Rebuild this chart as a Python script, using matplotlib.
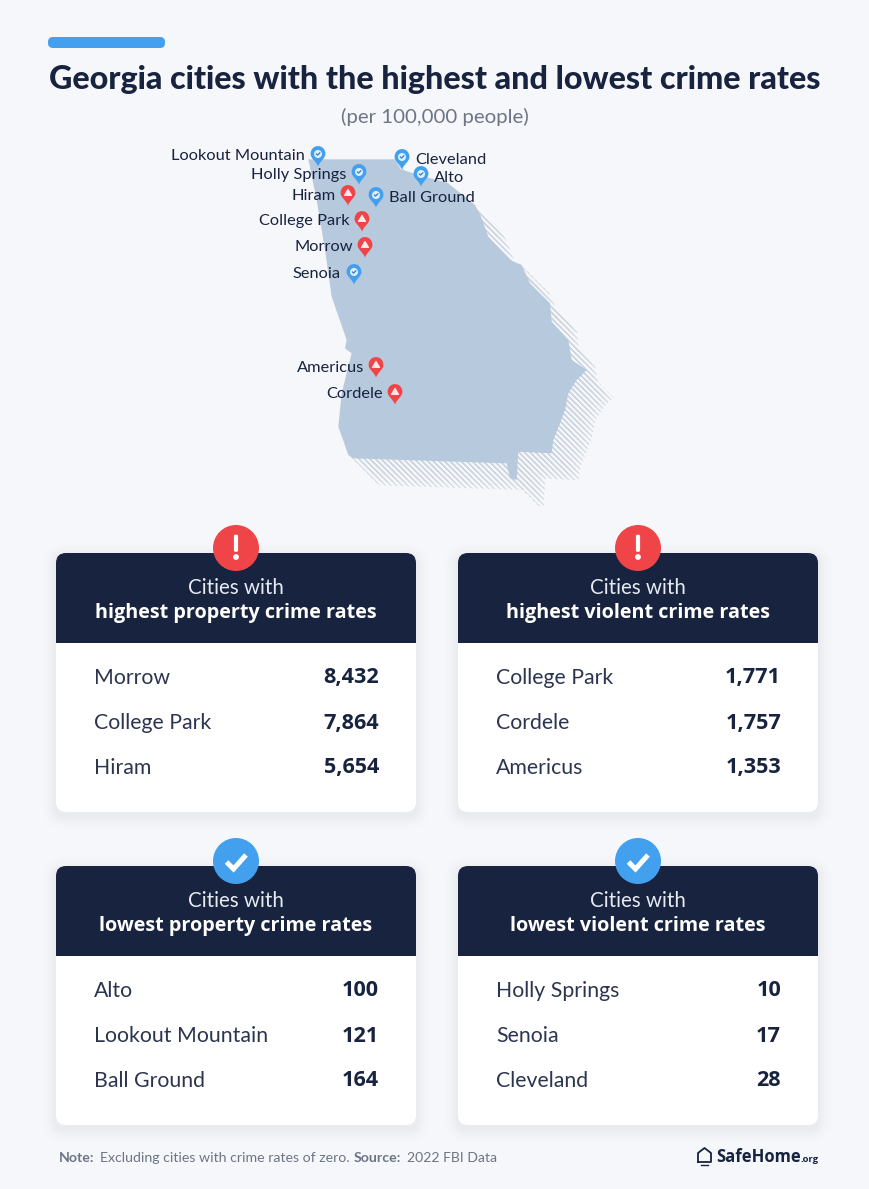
import matplotlib
matplotlib.use("Agg")
import matplotlib.pyplot as plt
from matplotlib.patches import FancyBboxPatch, Circle, Polygon, PathPatch
from matplotlib.path import Path

# ---------- data ----------
title = "Georgia cities with the highest and lowest crime rates"
subtitle = "(per 100,000 people)"
panel_titles = ["highest property crime rates", "highest violent crime rates",
                "lowest property crime rates", "lowest violent crime rates"]
panel_kinds = ["high", "high", "low", "low"]
panel_cities = [["Morrow", "College Park", "Hiram"],
                ["College Park", "Cordele", "Americus"],
                ["Alto", "Lookout Mountain", "Ball Ground"],
                ["Holly Springs", "Senoia", "Cleveland"]]
panel_values = [["8,432", "7,864", "5,654"],
                ["1,771", "1,757", "1,353"],
                ["100", "121", "164"],
                ["10", "17", "28"]]
pin_names = ["Lookout Mountain", "Holly Springs", "Hiram", "College Park", "Morrow", "Senoia",
             "Americus", "Cordele", "Cleveland", "Alto", "Ball Ground"]
pin_kinds = ["low", "low", "high", "high", "high", "low", "high", "high", "low", "low", "low"]

# ---------- style / layout ----------
BG = "#f6f7fa"; NAVY = "#17233f"; BLUE = "#42a0ee"; RED = "#f04548"
MAP = "#b7c9dd"; HATCH = "#ccd4dd"; GREY = "#6c7486"
FONT = "Lato"
plt.rcParams["font.family"] = [FONT, "DejaVu Sans"]
plt.rcParams["hatch.linewidth"] = 0.7

fig = plt.figure(figsize=(8.70, 11.89), dpi=100, facecolor=BG)
ax = fig.add_axes([0, 0, 1, 1])
ax.set_xlim(0, 870); ax.set_ylim(1189, 0); ax.axis("off")

# header
ax.add_patch(FancyBboxPatch((48, 37), 117, 11, boxstyle="round,pad=0,rounding_size=5", fc=BLUE, ec="none"))
ax.text(435, 80, title, ha="center", va="center", fontsize=23.2, fontweight="black", color=NAVY)
ax.text(435, 117, subtitle, ha="center", va="center", fontsize=14.7, color=GREY)

# map outline (zoom coordinates -> pixels)
zoom_outline = [(445,58),(705,58),(722,88),(800,112),(862,128),(945,195),(962,228),(985,290),
                (1050,360),(1085,375),(1110,430),(1170,490),(1175,545),(1225,600),(1235,660),
                (1280,690),(1250,720),(1225,760),(1215,810),(1200,850),(1180,900),(1175,940),
                (1075,935),(1070,1020),(1050,1015),(1040,970),(580,955),(565,945),(535,860),
                (545,760),(575,640),(555,625),(560,600),(515,470),(495,330),(470,180)]
outline = [(160 + x / 3, 140 + y / 3) for x, y in zoom_outline]
for off in (27, 23, 19, 15, 11, 7, 3):
    ax.add_patch(Polygon([(x + off, y + off) for x, y in outline], closed=True, fc="none",
                         ec=HATCH, hatch="\\\\\\\\\\\\", lw=0, zorder=1))
ax.add_patch(Polygon(outline, closed=True, fc=MAP, ec="none", zorder=2))

# pins
pin_xy = [(318,154),(359,172),(348,193),(362,219),(365,245),(354,272),(376,365),(395,392),
          (402,157),(421,174),(376,195)]
label_anchor = [(305,156,"right"),(346,175,"right"),(336,195.5,"right"),(350,221,"right"),
                (353,247,"right"),(341,274,"right"),(364,368,"right"),(383,394,"right"),
                (415,160,"left"),(434,178,"left"),(389,198,"left")]

def pin(x, y, kind):
    col = BLUE if kind == "low" else RED
    r = 7.4
    verts = [(x - r, y), (x - r, y - 10.6), (x + r, y - 10.6), (x + r, y),
             (x + r, y + 4.5), (x + 2, y + 7), (x, y + 12.5),
             (x - 2, y + 7), (x - r, y + 4.5), (x - r, y), (x - r, y)]
    codes = [Path.MOVETO, Path.CURVE4, Path.CURVE4, Path.CURVE4,
             Path.CURVE4, Path.CURVE4, Path.CURVE4,
             Path.CURVE4, Path.CURVE4, Path.CURVE4, Path.CLOSEPOLY]
    ax.add_patch(PathPatch(Path(verts, codes), fc=col, ec="none", zorder=5))
    if kind == "low":
        ax.add_patch(Circle((x, y), 4.0, fc="#dff0fd", ec="none", zorder=6))
        ax.plot([x - 1.6, x - 0.4, x + 1.8], [y, y + 1.1, y - 1.2], color="#2f80c8", lw=0.9, zorder=7)
    else:
        ax.add_patch(Polygon([(x, y - 3.6), (x + 3.6, y + 2.4), (x - 3.6, y + 2.4)], closed=True,
                             fc="#fde9e9", ec="#fde9e9", lw=0.8, joinstyle="round", zorder=6))

for name, kind, (x, y), (lx, ly, ha) in zip(pin_names, pin_kinds, pin_xy, label_anchor):
    pin(x, y, kind)
    ax.text(lx, ly, name, ha=ha, va="center", fontsize=11.75, color=NAVY, zorder=8)

# cards
CARD_W, CARD_H, HEAD_H = 360, 259, 90
card_origin = [(56, 553), (458, 553), (56, 866), (458, 866)]

def head_path(x, y, w, h, r=10):
    verts = [(x, y + h), (x, y + r), (x, y), (x + r, y), (x + w - r, y), (x + w, y), (x + w, y + r),
             (x + w, y + h), (x, y + h)]
    codes = [Path.MOVETO, Path.LINETO, Path.CURVE3, Path.CURVE3, Path.LINETO, Path.CURVE3, Path.CURVE3,
             Path.LINETO, Path.CLOSEPOLY]
    return Path(verts, codes)

for (x0, y0), ptitle, kind, cities, vals in zip(card_origin, panel_titles, panel_kinds,
                                                panel_cities, panel_values):
    for grow, a in ((14, .005), (11, .006), (8, .007), (6, .008), (4, .009), (2, .010)):
        ax.add_patch(FancyBboxPatch((x0 - grow, y0 - grow + 4), CARD_W + 2 * grow, CARD_H + 2 * grow,
                                    boxstyle=f"round,pad=0,rounding_size={10 + grow}",
                                    fc=(0.1, 0.15, 0.3, a), ec="none", zorder=3))
    ax.add_patch(FancyBboxPatch((x0, y0), CARD_W, CARD_H, boxstyle="round,pad=0,rounding_size=10",
                                fc="white", ec="none", zorder=4))
    ax.add_patch(PathPatch(head_path(x0, y0, CARD_W, HEAD_H), fc=NAVY, ec="none", zorder=5))
    cx = x0 + CARD_W / 2
    ax.text(cx, y0 + 35, "Cities with", ha="center", va="center", fontsize=14.8, color="#e6eaf1", zorder=6)
    ax.text(cx, y0 + 60, ptitle, ha="center", va="center", fontsize=14.25, fontweight="bold",
            family=["Open Sans", "DejaVu Sans"], color="white", zorder=6)
    cy = y0 - 5
    ax.add_patch(Circle((cx, cy), 23, fc=RED if kind == "high" else BLUE, ec="none", zorder=7))
    if kind == "high":
        ax.add_patch(FancyBboxPatch((cx - 1.8, cy - 13), 3.6, 16.5, boxstyle="round,pad=0.3,rounding_size=1.5",
                                    fc="white", ec="none", zorder=8))
        ax.add_patch(Circle((cx, cy + 9), 2.9, fc="white", ec="none", zorder=8))
    else:
        ax.plot([cx - 9.5, cx - 2.5, cx + 10], [cy + 1, cy + 8, cy - 6], color="white", lw=3.6,
                solid_capstyle="butt", solid_joinstyle="miter", zorder=8)
    for i, (c, v) in enumerate(zip(cities, vals)):
        yy = y0 + 125 + 45 * i
        ax.text(x0 + 38, yy, c, ha="left", va="center", fontsize=15.3, color="#2b3550", zorder=6)
        ax.text(x0 + 323, yy, v, ha="right", va="center", fontsize=15.6, fontweight="bold",
                family=["Open Sans", "DejaVu Sans"], color=NAVY, zorder=6)

# footer
ax.text(59, 1158, "Note:", ha="left", va="center", fontsize=10.15, fontweight="bold", color=GREY)
ax.text(100, 1158, "Excluding cities with crime rates of zero.", ha="left", va="center", fontsize=10.15, color=GREY)
ax.text(354, 1158, "Source:", ha="left", va="center", fontsize=10.15, fontweight="bold", color=GREY)
ax.text(407, 1158, "2022 FBI Data", ha="left", va="center", fontsize=10.1, color=GREY)
ax.plot([698, 698, 704.5, 711, 711, 698], [1162, 1153, 1148, 1153, 1162, 1162], color=NAVY, lw=1.3)
ax.plot([701, 708], [1164.5, 1164.5], color=NAVY, lw=1.0)
ax.text(716, 1157, "SafeHome", ha="left", va="center", fontsize=12.0, fontweight="bold",
        family=["Open Sans", "DejaVu Sans"], color=NAVY)
ax.text(801, 1160, ".org", ha="left", va="center", fontsize=6.8, fontweight="bold",
        family=["Open Sans", "DejaVu Sans"], color=NAVY)

fig.savefig("out.png", dpi=100, facecolor=BG)
